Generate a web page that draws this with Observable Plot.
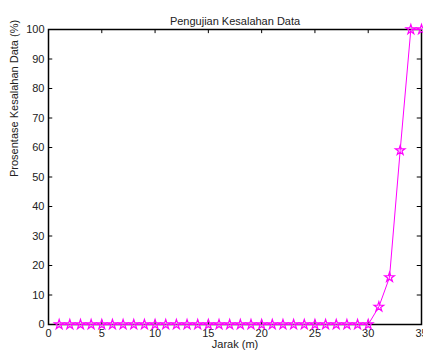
<!DOCTYPE html>
<html>
<head>
<meta charset="utf-8">
<script src="https://cdn.jsdelivr.net/npm/d3@7"></script>
<script src="https://cdn.jsdelivr.net/npm/@observablehq/plot@0.6"></script>
<style>
  html, body { margin: 0; padding: 0; background: #fff; }
  #chart svg { display: block; font-family: "Liberation Sans", Arial, sans-serif; }
</style>
</head>
<body>
<div id="chart"></div>
<script>
const jarak = [1,2,3,4,5,6,7,8,9,10,11,12,13,14,15,16,17,18,19,20,21,22,23,24,25,26,27,28,29,30,31,32,33,34,35];
const kesalahan = [0,0,0,0,0,0,0,0,0,0,0,0,0,0,0,0,0,0,0,0,0,0,0,0,0,0,0,0,0,0,6,16,59,100,100];
const xTicks = [0,5,10,15,20,25,30,35];
const yTicks = [0,10,20,30,40,50,60,70,80,90,100];
const title = "Pengujian Kesalahan Data";
const xLabel = "Jarak (m)";
const yLabel = "Prosentase Kesalahan Data (%)";

const data = jarak.map((x, i) => ({x, y: kesalahan[i]}));
const xLen = 0.4;   // inward tick length in x units
const yLen = 1.4;   // inward tick length in y units

const chart = Plot.plot({
  width: 423,
  height: 354,
  marginLeft: 48,
  marginRight: 2,
  marginTop: 29,
  marginBottom: 30,
  style: {fontSize: "11px", fontFamily: "'Liberation Sans', Arial, sans-serif", color: "#222", background: "#fff"},
  x: {domain: [0, 35], ticks: xTicks, label: null},
  y: {domain: [0, 100], ticks: yTicks, label: null},
  marks: [
    Plot.axisX({ticks: xTicks, tickSize: 0, tickPadding: 5, label: null, fill: "#222"}),
    Plot.axisY({ticks: yTicks, tickSize: 0, tickPadding: 4, label: null, fill: "#222"}),
    // inward ticks on all four sides
    Plot.ruleX(xTicks, {x: d => d, y1: 0, y2: yLen, stroke: "#000"}),
    Plot.ruleX(xTicks, {x: d => d, y1: 100 - yLen, y2: 100, stroke: "#000"}),
    Plot.ruleY(yTicks, {y: d => d, x1: 0, x2: xLen, stroke: "#000"}),
    Plot.ruleY(yTicks, {y: d => d, x1: 35 - xLen, x2: 35, stroke: "#000"}),
    Plot.frame({stroke: "#000", strokeWidth: 1.5}),
    Plot.line(data, {x: "x", y: "y", stroke: "#ff00ff", strokeWidth: 1}),
    Plot.dot(data, {x: "x", y: "y", symbol: "star", r: 3, fill: "none", stroke: "#ff00ff", strokeWidth: 1.2}),
    Plot.text([title], {frameAnchor: "top", dy: -12, text: d => d, fontSize: 11, fill: "#222"}),
    Plot.text([xLabel], {frameAnchor: "bottom", dy: 23, text: d => d, fontSize: 11, fill: "#222"}),
    Plot.text([yLabel], {frameAnchor: "left", dx: -34, rotate: -90, text: d => d, fontSize: 11, fill: "#222"})
  ]
});
document.getElementById("chart").appendChild(chart);
</script>
</body>
</html>
